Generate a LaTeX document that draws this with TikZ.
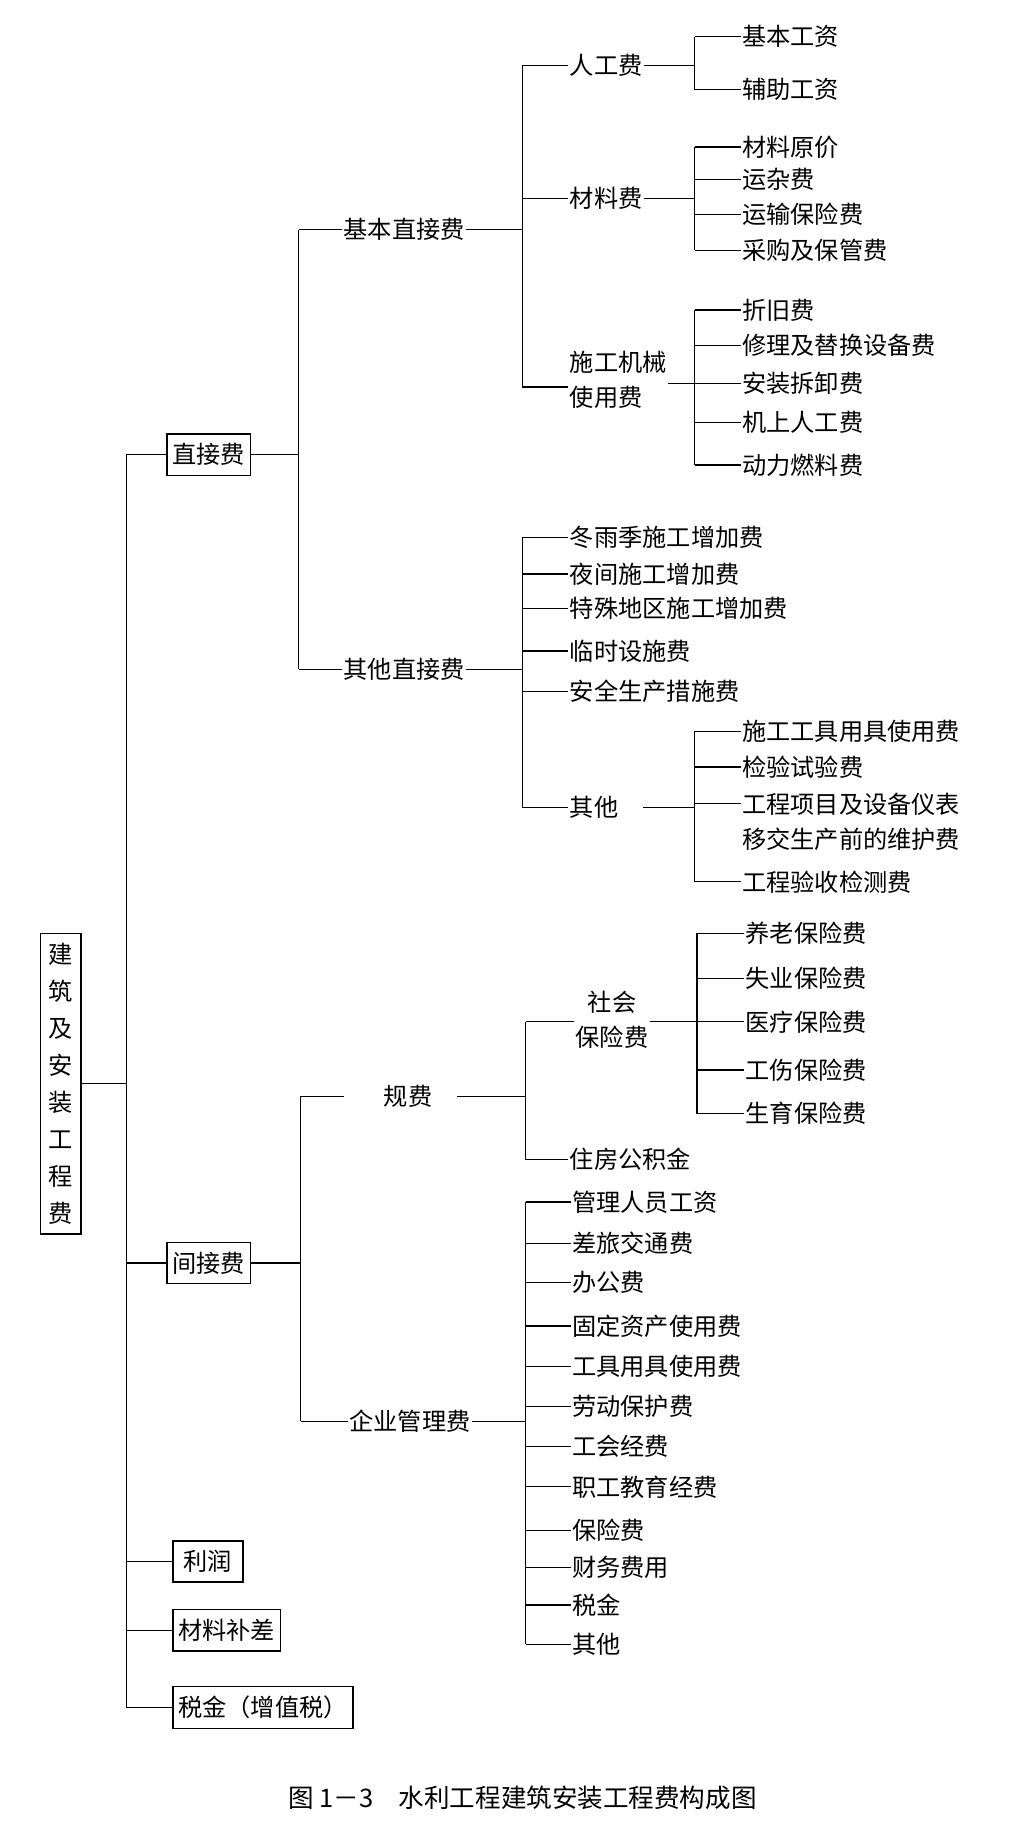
\documentclass[tikz,border=0pt]{standalone}
\usepackage{fontspec}
\newfontfamily\cjk{Noto Sans CJK SC}
\usetikzlibrary{positioning,calc}
\tikzset{%
	% Specifications for style of nodes:
	item/.style = {inner sep=1pt, anchor=west, align=left,
		font=\cjk\fontsize{18}{26}\selectfont},
	boxed/.style = {item, draw=black, line width=1pt, inner xsep=4pt, inner ysep=7pt},
	link/.style = {line width=0.9pt}
}
% leaves hanging from one bus: bus x, text x, prefix, list of y/text
\newcommand\leaves[4]{%
	\foreach \y/\t [count=\i] in {#4} {
		\node[item] (#3\i) at (#2,\y) {\t};
		\draw[link] (#1,\y) -- (#3\i.west);
	}}
\begin{document}
\begin{tikzpicture}[x=0.03cm, y=-0.03cm]
		\useasboundingbox (0,0) rectangle (896,1600);
		% root and first level
		\node (root) [boxed, anchor=center, align=center, text width=0.7cm,
			inner xsep=5pt, font=\cjk\fontsize{18}{27.5}\selectfont] at (53,944)
			{建\\筑\\及\\安\\装\\工\\程\\费};
		\node (zj)  [boxed] at (145,396)  {直接费};
		\node (jj)  [boxed] at (145,1100) {间接费};
		\node (lr)  [boxed, inner xsep=8pt] at (150,1360) {利润};
		\node (cl)  [boxed] at (150,1420) {材料补差};
		\node (sj)  [boxed] at (150,1487) {税金（增值税）};
		\draw[link] (root.east) -- (110,944);
		\draw[link] (110,396) -- (110,1487);
		\foreach \n in {zj,jj,lr,cl,sj}
			\draw[link] (\n.west -| 110,0) -- (\n.west);
		
		% direct costs
		\node (jb) [item] at (298,200) {基本直接费};
		\node (qt) [item] at (298,583) {其他直接费};
		\draw[link] (zj.east) -- (260,396);
		\draw[link] (260,200) -- (260,583);
		\draw[link] (260,200) -- (jb.west);
		\draw[link] (260,583) -- (qt.west);
		
		\node (rg) [item] at (495,57)  {人工费};
		\node (cf) [item] at (495,173) {材料费};
		\node (jx) [item] at (495,331) {施工机械\\使用费};
		\draw[link] (jb.east) -- (455,200);
		\draw[link] (455,57) -- (455,337);
		\draw[link] (455,57) -- (rg.west);
		\draw[link] (455,173) -- (cf.west);
		\draw[link] (455,337) -- (jx.west |- 0,337);
		
		\draw[link] (rg.east) -- (605,57);
		\draw[link] (605,32) -- (605,78);
		\leaves{605}{645}{a}{32/基本工资, 78/辅助工资}
		\draw[link] (cf.east) -- (605,173);
		\draw[link] (605,128) -- (605,218);
		\leaves{605}{645}{b}{128/材料原价, 156/运杂费, 187/运输保险费, 218/采购及保管费}
		\draw[link] (jx.east |- 0,334) -- (605,334);
		\draw[link] (605,270) -- (605,405);
		\leaves{605}{645}{c}{270/折旧费, 301/修理及替换设备费, 334/安装拆卸费, 368/机上人工费, 405/动力燃料费}
		
		\draw[link] (qt.east) -- (455,583);
		\draw[link] (455,468) -- (455,703);
		\leaves{455}{495}{d}{468/冬雨季施工增加费, 500/夜间施工增加费, 530/特殊地区施工增加费, 567/临时设施费, 602/安全生产措施费, 703/其他}
		\draw[link] (d6.east) ++(20,0) -- (605,703);
		\draw[link] (605,637) -- (605,768);
		\leaves{605}{645}{e}{637/施工工具用具使用费, 668/检验试验费, 768/工程验收检测费}
		\node (e4) [item] at (645,716) {工程项目及设备仪表\\移交生产前的维护费};
		\draw[link] (605,700) -- (e4.west |- 0,700);
		
		% indirect costs
		\node (gf) [item] at (333,955)  {规费};
		\node (qy) [item] at (303,1238) {企业管理费};
		\draw[link] (jj.east) -- (262,1100);
		\draw[link] (262,955) -- (262,1238);
		\draw[link] (262,955) -- (300,955);
		\draw[link] (262,1238) -- (qy.west);
		
		\node (sb) [item, align=center] at (500,888) {社会\\保险费};
		\node (zf) [item] at (495,1010) {住房公积金};
		\draw[link] (gf.east) ++(20,0) -- (458,955);
		\draw[link] (458,890) -- (458,1010);
		\draw[link] (458,890) -- (sb.west |- 0,890);
		\draw[link] (458,1010) -- (zf.west);
		\draw[link] (sb.east |- 0,890) -- (607,890);
		\draw[link] (607,813) -- (607,970);
		\leaves{607}{648}{f}{813/养老保险费, 852/失业保险费, 890/医疗保险费, 932/工伤保险费, 970/生育保险费}
		
		\draw[link] (qy.east) -- (458,1238);
		\draw[link] (458,1047) -- (458,1432);
		\leaves{458}{497}{g}{1047/管理人员工资, 1083/差旅交通费, 1117/办公费, 1155/固定资产使用费, 1190/工具用具使用费, 1225/劳动保护费, 1260/工会经费, 1295/职工教育经费, 1333/保险费, 1365/财务费用, 1398/税金, 1432/其他}
		
		% caption
		\node (cap) [item, anchor=center, font=\cjk\fontsize{19}{26}\selectfont] at (455,1566) {图 1－3\quad 水利工程建筑安装工程费构成图};
\end{tikzpicture}
\end{document}
